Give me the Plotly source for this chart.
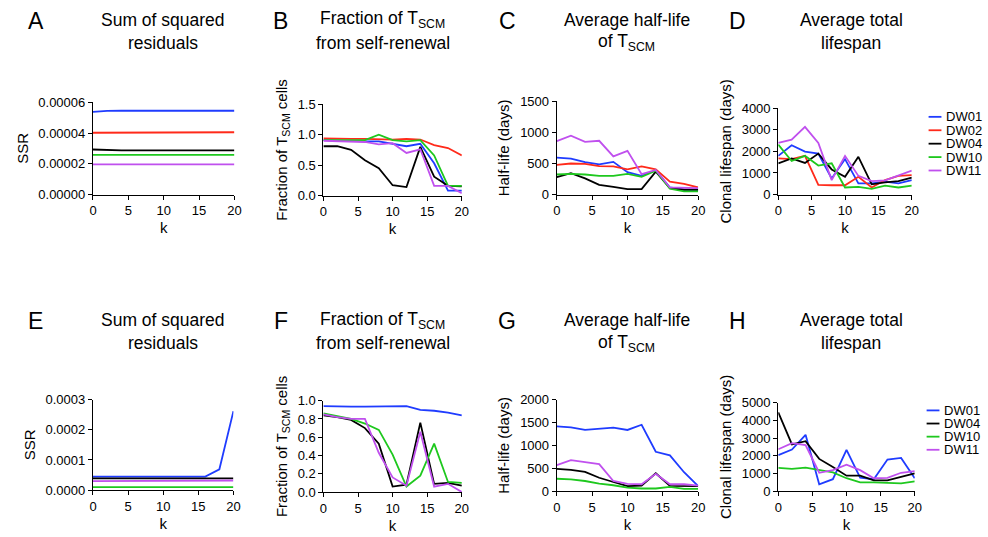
import plotly.graph_objects as go

# --- data -----------------------------------------------------------------
k = [0, 2, 4, 6, 8, 10, 12, 14, 16, 18, 20]

# Top row (five donors)
top_donors = ["DW01", "DW02", "DW04", "DW10", "DW11"]
ssr_top = {  # x 1e-5
    "DW01": [5.38, 5.44, 5.45, 5.45, 5.45, 5.45, 5.45, 5.45, 5.45, 5.45, 5.45],
    "DW02": [4.02, 4.02, 4.02, 4.02, 4.02, 4.02, 4.02, 4.02, 4.02, 4.02, 4.05],
    "DW04": [2.93, 2.89, 2.88, 2.88, 2.88, 2.88, 2.88, 2.88, 2.88, 2.88, 2.88],
    "DW10": [2.58, 2.58, 2.58, 2.58, 2.58, 2.58, 2.58, 2.58, 2.58, 2.58, 2.58],
    "DW11": [1.96, 1.96, 1.96, 1.96, 1.96, 1.96, 1.96, 1.96, 1.96, 1.96, 1.96],
}
frac_top = {
    "DW01": [0.91, 0.90, 0.89, 0.89, 0.89, 0.85, 0.81, 0.85, 0.53, 0.08, 0.08],
    "DW02": [0.94, 0.93, 0.93, 0.93, 0.92, 0.92, 0.93, 0.92, 0.83, 0.78, 0.66],
    "DW04": [0.81, 0.81, 0.75, 0.58, 0.45, 0.17, 0.14, 0.80, 0.31, 0.16, 0.15],
    "DW10": [0.91, 0.91, 0.91, 0.91, 1.00, 0.91, 0.89, 0.91, 0.66, 0.16, 0.16],
    "DW11": [0.90, 0.89, 0.89, 0.88, 0.84, 0.86, 0.70, 0.76, 0.16, 0.16, 0.04],
}
half_top = {
    "DW01": [594, 578, 521, 485, 526, 360, 302, 391, 115, 78, 78],
    "DW02": [479, 500, 495, 458, 453, 406, 453, 406, 208, 172, 115],
    "DW04": [281, 344, 260, 156, 125, 89, 89, 370, 104, 78, 78],
    "DW10": [323, 333, 323, 302, 302, 333, 286, 385, 94, 52, 52],
    "DW11": [860, 948, 849, 865, 615, 703, 328, 396, 115, 115, 104],
}
life_top = {
    "DW01": [1791, 2284, 1985, 1896, 746, 1642, 522, 522, 597, 522, 672],
    "DW02": [1672, 1642, 1791, 448, 433, 433, 821, 328, 672, 866, 896],
    "DW04": [1448, 1672, 1463, 1896, 1164, 821, 1746, 478, 567, 627, 791],
    "DW10": [2314, 1552, 1791, 1343, 1448, 328, 358, 269, 418, 328, 418],
    "DW11": [2388, 2538, 3135, 2388, 672, 1791, 866, 627, 657, 896, 1105],
}

# Bottom row (four donors)
bot_donors = ["DW01", "DW04", "DW10", "DW11"]
ssr_bot = {  # x 1e-5
    "DW01": [4.5, 4.5, 4.5, 4.5, 4.5, 4.5, 4.5, 4.5, 4.5, 6.9, 26.2],
    "DW04": [3.9, 3.9, 3.9, 3.9, 3.9, 3.9, 3.9, 3.9, 3.9, 3.9, 3.9],
    "DW10": [1.0, 1.0, 1.0, 1.0, 1.0, 1.0, 1.0, 1.0, 1.0, 1.0, 1.0],
    "DW11": [3.0, 3.0, 3.0, 3.0, 3.0, 3.0, 3.0, 3.0, 3.0, 3.0, 3.2],
}
frac_bot = {
    "DW01": [0.94, 0.935, 0.935, 0.935, 0.935, 0.935, 0.94, 0.90, 0.89, 0.87, 0.84],
    "DW04": [0.84, 0.82, 0.79, 0.70, 0.53, 0.06, 0.08, 0.76, 0.09, 0.10, 0.07],
    "DW10": [0.86, 0.83, 0.80, 0.75, 0.68, 0.41, 0.06, 0.18, 0.53, 0.11, 0.10],
    "DW11": [0.85, 0.82, 0.80, 0.80, 0.43, 0.16, 0.07, 0.66, 0.06, 0.09, 0.00],
}
half_bot = {
    "DW01": [1417, 1396, 1338, 1367, 1388, 1338, 1452, 861, 783, 413, 107],
    "DW04": [484, 463, 420, 292, 199, 107, 121, 391, 114, 107, 107],
    "DW10": [270, 256, 221, 164, 128, 78, 57, 57, 93, 50, 50],
    "DW11": [570, 676, 634, 591, 221, 157, 150, 377, 150, 150, 121],
}
life_bot = {
    "DW01": [2036, 2345, 3182, 382, 673, 2327, 764, 673, 1782, 1873, 727],
    "DW04": [4455, 2636, 2818, 1818, 1364, 873, 873, 600, 600, 800, 1000],
    "DW10": [1309, 1255, 1327, 1182, 1055, 727, 491, 491, 455, 436, 545],
    "DW11": [2364, 2709, 2600, 1036, 1182, 1491, 1182, 727, 745, 1036, 1127],
}

colors = {
    "DW01": "#1f3cff",
    "DW02": "#ff2a1a",
    "DW04": "#000000",
    "DW10": "#1ec81e",
    "DW11": "#c050ee",
}

# --- layout helpers -------------------------------------------------------
W, H = 988, 537
FONT = "Liberation Sans, Arial, Helvetica, sans-serif"


def xdom(x0, x1):
    return [x0 / W, x1 / W]


def ydom(top, bottom):
    return [1 - bottom / H, 1 - top / H]


# panel: (data, donors, scale, x px range, y px range, y range, dtick, tickformat, ytitle)
panels = [
    (ssr_top, top_donors, 1e-5, (90, 233), (98, 193), [0, 0.00006], 0.00002, ".5f", "SSR"),
    (frac_top, top_donors, 1, (323, 463), (100, 194), [0, 1.5], 0.5, ".1f",
     "Fraction of T<sub>SCM</sub> cells"),
    (half_top, top_donors, 1, (559, 702), (97, 193), [0, 1500], 500, "d", "Half-life (days)"),
    (life_top, top_donors, 1, (783, 918), (104, 193), [0, 4000], 1000, "d",
     "Clonal lifespan (days)"),
    (ssr_bot, bot_donors, 1e-5, (90, 232), (404, 497), [0, 0.0003], 0.0001, ".4f", "SSR"),
    (frac_bot, bot_donors, 1, (323, 463), (405, 499), [0, 1.0], 0.2, ".1f",
     "Fraction of T<sub>SCM</sub> cells"),
    (half_bot, bot_donors, 1, (559, 702), (404, 498), [0, 2000], 500, "d", "Half-life (days)"),
    (life_bot, bot_donors, 1, (783, 921), (407, 498), [0, 5000], 1000, "d",
     "Clonal lifespan (days)"),
]

fig = go.Figure()
layout = {}

for i, (data, donors, scale, xpx, ypx, yr, dt, fmt, ytitle) in enumerate(panels):
    n = i + 1
    xa = "xaxis" if n == 1 else f"xaxis{n}"
    ya = "yaxis" if n == 1 else f"yaxis{n}"
    xref = "x" if n == 1 else f"x{n}"
    yref = "y" if n == 1 else f"y{n}"
    for d in donors:
        fig.add_trace(go.Scatter(
            x=k, y=[v * scale for v in data[d]], mode="lines", name=d,
            line=dict(color=colors[d], width=1.8),
            xaxis=xref, yaxis=yref, showlegend=False,
        ))
    axis_common = dict(
        showline=True, linecolor="black", linewidth=1.2,
        ticks="outside", ticklen=4, tickwidth=1.2, tickcolor="black",
        showgrid=False, zeroline=False,
        tickfont=dict(family=FONT, size=13, color="black"),
        title_font=dict(family=FONT, size=15, color="black"),
    )
    layout[xa] = dict(
        axis_common, domain=xdom(*xpx), anchor=yref, range=[0, 20],
        tick0=0, dtick=5, title=dict(text="k", standoff=5),
    )
    layout[ya] = dict(
        axis_common, domain=ydom(*ypx), anchor=xref, range=yr,
        tick0=0, dtick=dt, tickformat=fmt, title=dict(text=ytitle, standoff=6),
    )

annotations = []


def text(x, y, s, size, anchor="center"):
    annotations.append(dict(
        x=x / W, y=1 - y / H, xref="paper", yref="paper", text=s,
        showarrow=False, xanchor=anchor, yanchor="middle",
        font=dict(family=FONT, size=size, color="black"),
    ))


# panel letters and titles
titles = [
    ("A", 32, 161, ["Sum of squared", "residuals"]),
    ("B", 280, 383, ["Fraction of T<sub>SCM</sub>", "from self-renewal"]),
    ("C", 509, 630, ["Average half-life", "of T<sub>SCM</sub>"]),
    ("D", 742, 857, ["Average total", "lifespan"]),
]
bottom_titles = [
    ("E", 32, 161, ["Sum of squared", "residuals"]),
    ("F", 280, 383, ["Fraction of T<sub>SCM</sub>", "from self-renewal"]),
    ("G", 509, 630, ["Average half-life", "of T<sub>SCM</sub>"]),
    ("H", 742, 857, ["Average total", "lifespan"]),
]
for row, y0 in ((titles, 14), (bottom_titles, 323)):
    for letter, lx, tx, lines in row:
        text(lx, y0, letter, 23)
        text(tx, y0 - 1, lines[0], 17.5)
        text(tx, y0 + 23, lines[1], 17.5)

# legends drawn beside panels D and H
shapes = []


def legend(donors, x_line, y_first, step):
    for j, d in enumerate(donors):
        y = y_first + j * step
        shapes.append(dict(
            type="line", xref="paper", yref="paper",
            x0=x_line / W, x1=(x_line + 13) / W, y0=1 - y / H, y1=1 - y / H,
            line=dict(color=colors[d], width=1.8),
        ))
        text(x_line + 16, y, d, 13, anchor="left")


legend(top_donors, 935, 113, 13.8)
legend(bot_donors, 933, 415, 13.5)

fig.update_layout(
    **layout,
    annotations=annotations,
    shapes=shapes,
    width=W, height=H,
    margin=dict(l=0, r=0, t=0, b=0),
    paper_bgcolor="white", plot_bgcolor="white",
    font=dict(family=FONT, color="black"),
    showlegend=False,
)

fig.write_html("out.html")
